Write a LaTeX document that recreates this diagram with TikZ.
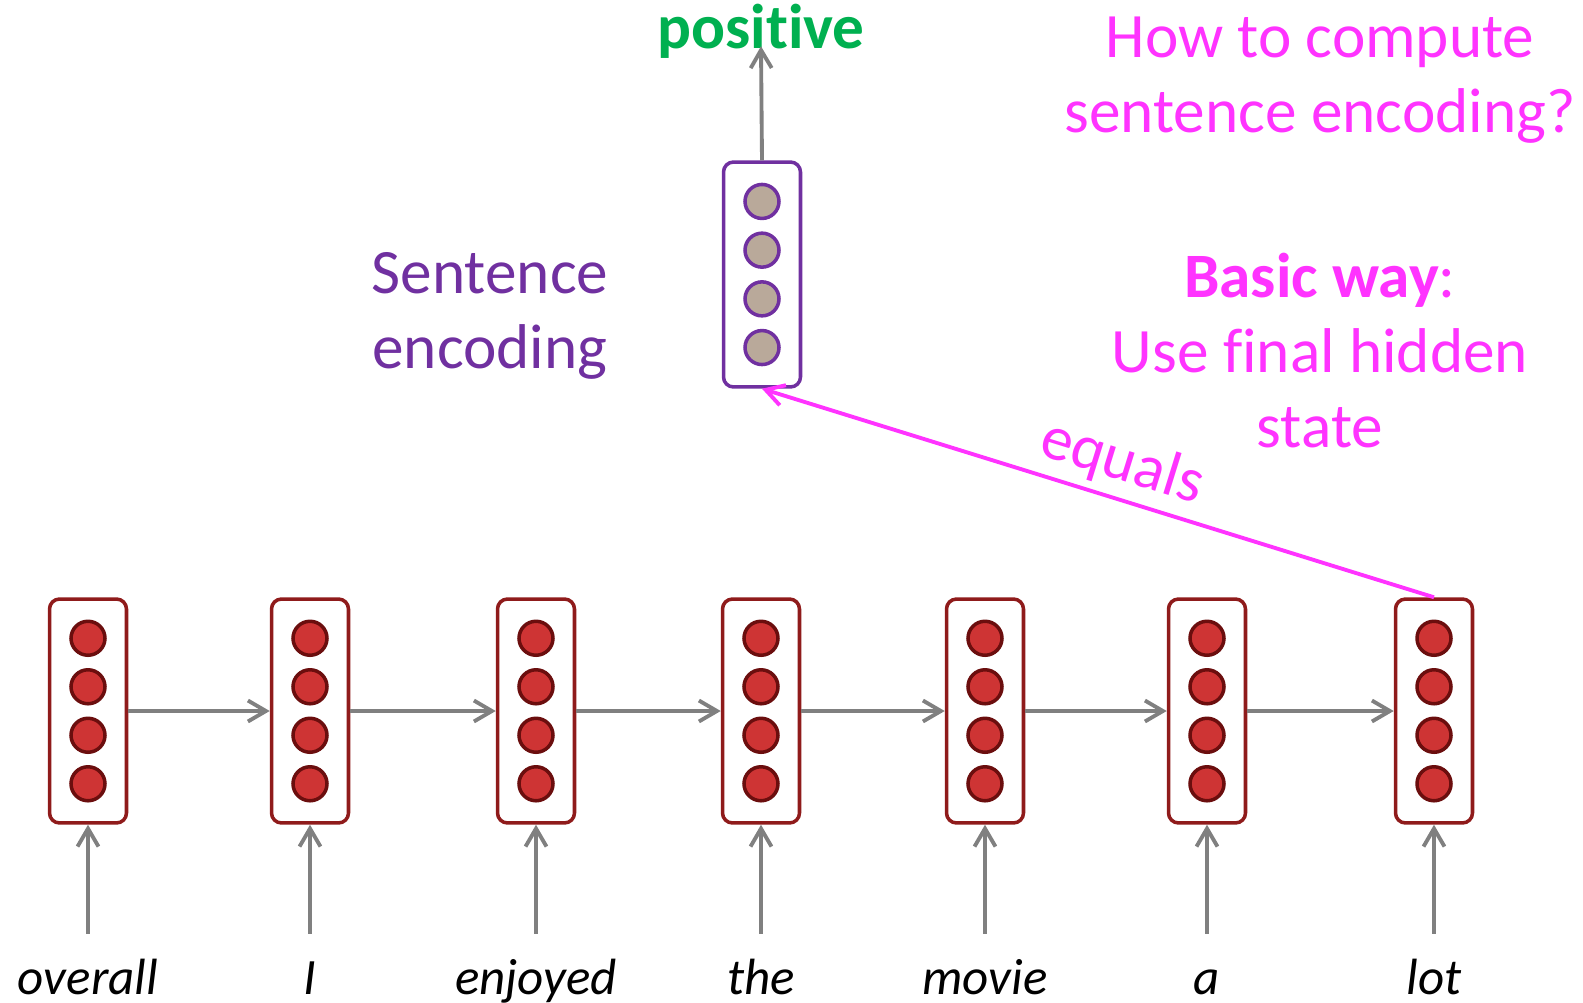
\documentclass[tikz,border=0pt]{standalone}
\usepackage{fontspec}
\setmainfont{Carlito}[RawFeature={-liga;-clig;-calt;-dlig}]
\usetikzlibrary{arrows.meta}
\definecolor{cellred}{RGB}{143,27,27}
\definecolor{dotred}{RGB}{206,52,52}
\definecolor{dotedge}{RGB}{107,14,14}
\definecolor{encpurple}{RGB}{112,48,160}
\definecolor{enctan}{RGB}{185,169,154}
\definecolor{askpink}{RGB}{255,51,255}
\definecolor{posgreen}{RGB}{0,176,80}
\definecolor{arrgray}{RGB}{128,128,128}

\begin{document}
\begin{tikzpicture}[
    x=0.02cm, y=-0.02cm,
    cell/.style={draw=cellred, line width=2pt, rounded corners=0.2cm, fill=white, minimum width=1.54cm, minimum height=4.48cm, inner sep=0pt},
    dot/.style={circle, draw=dotedge, line width=2pt, fill=dotred, minimum size=0.68cm, inner sep=0pt},
    enccell/.style={cell, draw=encpurple},
    encdot/.style={dot, draw=encpurple, fill=enctan},
    bigtext/.style={font=\fontsize{36}{42.7}\selectfont, align=center, inner sep=0pt},
    word/.style={font=\fontsize{29}{35}\selectfont\itshape, anchor=base, text height=22pt, inner sep=0pt, inner ysep=12pt},
    arr/.style={draw=arrgray, line width=2.2pt, -{Straight Barb[length=3.6mm, width=4.2mm]}},
    pinkarr/.style={draw=askpink, line width=2.2pt, {Straight Barb[length=3.6mm, width=4.2mm]}-}
]
\useasboundingbox (0,0) rectangle (1583,1002);

% hidden states over the words
\foreach \i/\x/\w in {1/88/overall, 2/310/I, 3/536/enjoyed, 4/761/the, 5/985/movie, 6/1207/a, 7/1434/lot} {
    \node[cell] (h\i) at (\x,711) {};
    \foreach \k in {1,...,4}
        \node[dot] at (\x,{711+(\k-2.5)*48.5}) {};
    \node[word] (t\i) at (\x,994) {\w};
    \draw[arr] (t\i.north) -- (h\i.south);
}
\foreach \i/\j in {1/2, 2/3, 3/4, 4/5, 5/6, 6/7}
    \draw[arr] (h\i.east) -- (h\j.west);

% sentence encoding
\node[enccell, minimum height=4.5cm] (enc) at (762,274.5) {};
\foreach \k in {1,...,4}
    \node[encdot] at (762,{274.5+(\k-2.5)*48.7}) {};

\node[bigtext, font=\fontsize{36}{42.7}\selectfont\bfseries, text=posgreen, anchor=base] (pos) at (761,48) {posit\kern0pt ive};
\draw[arr, shorten >=-1pt] (enc.north) -- (pos.base);

\node[bigtext, text=encpurple] (enclabel) at (490,316) {Sentence\\encoding};

\draw[pinkarr] (enc.south) -- node[sloped, above=4pt, pos=0.52, bigtext, text=askpink] (eq) {equals} (h7.north);

\node[bigtext, text=askpink] (ask) at (1320,80) {How to compute\\sentence encoding?};
\node[bigtext, text=askpink] (basic) at (1320,351) {\textbf{Basic way}:\\Use final hidden\\state};

\end{tikzpicture}
\end{document}
